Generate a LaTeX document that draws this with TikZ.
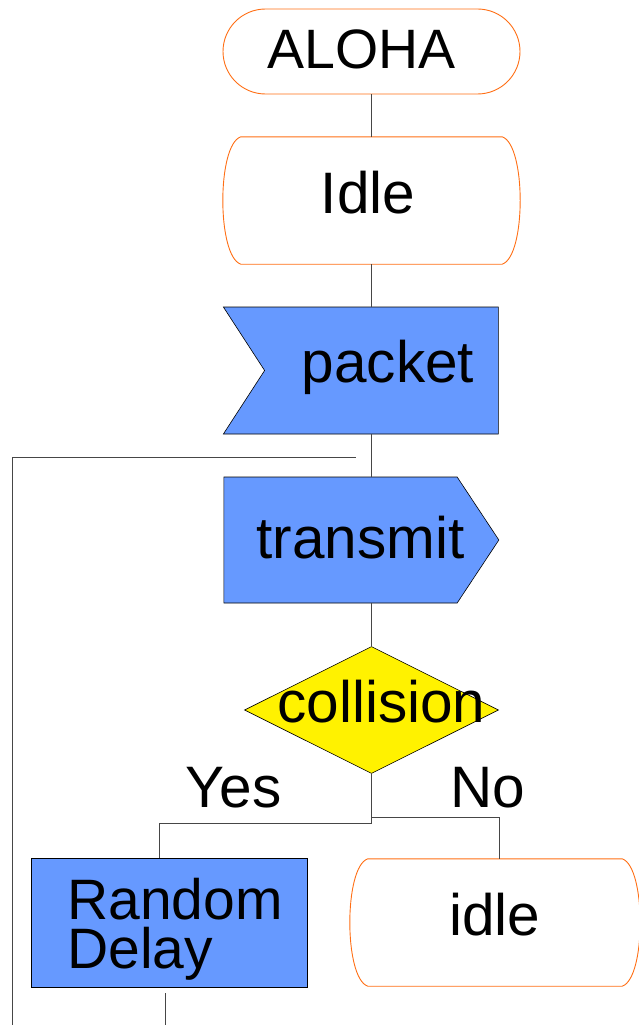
\documentclass[tikz,border=0pt]{standalone}
\usepackage{fontspec}
\setmainfont{Liberation Sans}
\usetikzlibrary{shapes.geometric,shapes.misc,shapes.symbols}
\definecolor{sdlblue}{RGB}{102,153,255}
\definecolor{sdlorange}{RGB}{255,110,20}
\definecolor{linegray}{RGB}{70,70,70}
\tikzset{
  start/.style    = {rounded rectangle, draw=sdlorange, line width=0.9pt, minimum width=297pt, minimum height=85pt, inner sep=0},
  statebox/.style = {rectangle, minimum width=#1, minimum height=127pt, inner sep=0},
  inbox/.style    = {signal, signal from=west, signal to=nowhere, signal pointer angle=114, draw, line width=0.6pt, fill=sdlblue, minimum width=275pt, minimum height=127pt, inner sep=0},
  outbox/.style   = {signal, signal to=east, signal pointer angle=113, draw, line width=0.6pt, fill=sdlblue, minimum width=275pt, minimum height=126pt, inner sep=0},
  taskbox/.style  = {rectangle, draw, line width=0.6pt, fill=sdlblue, minimum width=276pt, minimum height=129pt, inner sep=0},
  decision/.style = {diamond, draw, line width=0.6pt, fill=yellow, minimum width=254pt, minimum height=127pt, inner sep=0},
  wire/.style     = {draw=linegray, line width=0.8pt},
  txt/.style      = {font=\fontsize{58.5}{49}\selectfont, inner sep=0, anchor=base}
}
% state symbol: flat top and bottom, bulging sides
\newcommand\stateshape[1]{%
  \draw[sdlorange, line width=0.9pt] ([xshift=18pt]#1.north west) -- ([xshift=-18pt]#1.north east)
    .. controls ([xshift=6pt,yshift=-8pt]#1.north east) and ([xshift=6pt,yshift=8pt]#1.south east) .. ([xshift=-18pt]#1.south east)
    -- ([xshift=18pt]#1.south west)
    .. controls ([xshift=-6pt,yshift=8pt]#1.south west) and ([xshift=-6pt,yshift=-8pt]#1.north west) .. cycle;}

\begin{document}
\begin{tikzpicture}[x=1pt,y=-1pt]
  \useasboundingbox (0,0) rectangle (639,1025);

  \node[start]          (aloha)  at (371.5, 51.5) {};
  \node[statebox=297pt] (idle)   at (371.5,200.5) {}; \stateshape{idle}
  \node[inbox]          (packet) at (381.5,370.5) {};
  \node[outbox]         (tx)     at (340.5,540)   {};
  \node[decision]       (coll)   at (371.5,710)   {};
  \node[taskbox]        (delay)  at (169,922.5)   {};
  \node[statebox=290pt] (back)   at (495,922.5)   {}; \stateshape{back}

  \node[txt, font=\fontsize{55.5}{49}\selectfont] (t1) at (361.5, 68) {ALOHA};
  \node[txt] (t2) at (368,213)   {Idle};
  \node[txt] (t3) at (388,382)   {packet};
  \node[txt] (t4) at (360.5,558) {transmit};
  \node[txt] (t5) at (381.5,722) {collision};
  \node[txt] (yes) at (233.5,807) {Yes};
  \node[txt] (no)  at (488,807)   {No};
  \node[txt] (t6) at (495,935)   {idle};
  \node[txt, font=\fontsize{57}{49}\selectfont, anchor=base west, align=left] (t7) at (67,968) {Random\\Delay};

  \coordinate (ykink) at (159,823);
  \coordinate (nkink) at (499,817);
  \coordinate (dout)  at (165,1025);
  \coordinate (lbot)  at (12,1025);
  \coordinate (lin)   at (356,457);

  \draw[wire] (aloha) -- (idle);
  \draw[wire] (idle) -- (idle |- packet.north);
  \draw[wire] (idle |- packet.south) -- (idle |- tx.north);
  \draw[wire] (coll |- tx.south) -- (coll);
  \draw[wire] (coll.south) |- (ykink) -- (ykink |- delay.north);
  \draw[wire] (coll.south |- nkink) -- (nkink) -- (nkink |- back.north);
  \draw[wire] ([yshift=-6pt]delay.south -| dout) -- (dout);
  \draw[wire] (lbot) |- (lin);
\end{tikzpicture}
\end{document}
